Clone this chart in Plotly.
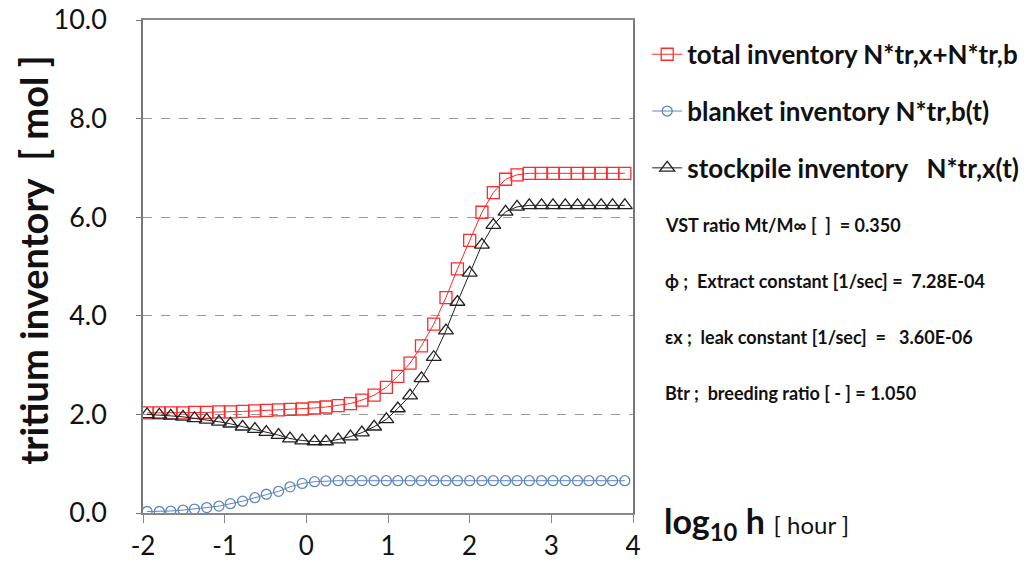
import plotly.graph_objects as go

# log10 of time [hour]
log_h = [-1.95, -1.80, -1.66, -1.51, -1.37, -1.22, -1.07, -0.93, -0.78, -0.63,
         -0.49, -0.34, -0.20, -0.05, 0.10, 0.24, 0.39, 0.54, 0.68, 0.83,
         0.98, 1.12, 1.27, 1.41, 1.56, 1.71, 1.85, 2.00, 2.15, 2.29,
         2.44, 2.58, 2.73, 2.88, 3.02, 3.17, 3.32, 3.46, 3.61, 3.75, 3.90]

total_inv = [2.03, 2.03, 2.03, 2.03, 2.04, 2.04, 2.05, 2.05, 2.06, 2.07,
             2.08, 2.09, 2.10, 2.11, 2.13, 2.15, 2.18, 2.22, 2.29, 2.39,
             2.55, 2.77, 3.04, 3.39, 3.83, 4.37, 4.95, 5.53, 6.10, 6.50,
             6.77, 6.86, 6.89, 6.89, 6.89, 6.89, 6.89, 6.89, 6.89, 6.89, 6.89]

blanket_inv = [0.03, 0.03, 0.04, 0.06, 0.08, 0.11, 0.14, 0.19, 0.24, 0.31,
               0.38, 0.44, 0.53, 0.60, 0.635, 0.65, 0.655, 0.655, 0.655, 0.655,
               0.655, 0.655, 0.655, 0.655, 0.655, 0.655, 0.655, 0.655, 0.655, 0.655,
               0.655, 0.655, 0.655, 0.655, 0.655, 0.655, 0.655, 0.655, 0.655, 0.655, 0.655]

stock_inv = [2.00, 1.99, 1.97, 1.95, 1.92, 1.89, 1.85, 1.81, 1.75, 1.70,
             1.64, 1.58, 1.51, 1.47, 1.45, 1.45, 1.49, 1.55, 1.63, 1.75,
             1.90, 2.12, 2.38, 2.73, 3.16, 3.70, 4.28, 4.87, 5.44, 5.84,
             6.11, 6.21, 6.24, 6.24, 6.24, 6.24, 6.24, 6.24, 6.24, 6.24, 6.24]

x_ticks = [-2, -1, 0, 1, 2, 3, 4]
x_labels = ["-2", "-1", "0", "1", "2", "3", "4"]

params = [
    "VST ratio Mt/M∞ [  ]  = 0.350",
    "ϕ ;  Extract constant [1/sec] =  7.28E-04",
    "εx ;  leak constant [1/sec]  =   3.60E-06",
    "Btr ;  breeding ratio [ - ] = 1.050",
]

FONT = "Lato, 'Noto Sans', sans-serif"

fig = go.Figure()

fig.add_trace(go.Scatter(
    x=log_h, y=total_inv, mode="lines+markers",
    name="total inventory N*tr,x+N*tr,b", legendgroup="a",
    line=dict(color="#ff2a2a", width=1),
    marker=dict(symbol="square-open", size=12, color="#ff2a2a", line=dict(width=1.3)),
))
fig.add_trace(go.Scatter(
    x=log_h, y=blanket_inv, mode="lines+markers",
    name="blanket inventory N*tr,b(t)", legendgroup="b",
    line=dict(color="#5b86c0", width=1),
    marker=dict(symbol="circle-open", size=10, color="#5b86c0", line=dict(width=1.3)),
))
fig.add_trace(go.Scatter(
    x=log_h, y=stock_inv, mode="lines+markers",
    name="stockpile inventory   N*tr,x(t)", legendgroup="c",
    line=dict(color="#222222", width=1),
    marker=dict(symbol="triangle-up-open", size=13, color="#222222", line=dict(width=1.3)),
))

# parameter notes on the right
for k, txt in enumerate(params):
    fig.add_annotation(
        text=txt, xref="paper", yref="paper", x=1.061, y=0.584 - k * 0.1135,
        xanchor="left", yanchor="middle", showarrow=False,
        font=dict(family=FONT, size=18, color="#111", weight="bold"),
    )

# axis titles
fig.add_annotation(
    text="<b>tritium inventory  [ mol ]</b>", xref="paper", yref="paper",
    x=-0.225, y=0.513, xanchor="center", yanchor="middle", textangle=-90, showarrow=False,
    font=dict(family=FONT, size=38, color="#111"),
)
fig.add_annotation(
    text="<b>log<sub>10</sub> h</b> <span style='font-size:24px'>[ hour ]</span>",
    xref="paper", yref="paper", x=1.06, y=-0.02, xanchor="left", yanchor="middle",
    showarrow=False, font=dict(family=FONT, size=34, color="#111"),
)

fig.update_xaxes(
    range=[-2, 4], tickvals=x_ticks, ticktext=x_labels,
    showgrid=False, zeroline=False,
    showline=True, linecolor="#888", linewidth=2, mirror=True,
    ticks="outside", ticklen=8, tickcolor="#888", ticklabelstandoff=1,
    ticklabeloverflow="allow",
    tickfont=dict(family=FONT, size=26, color="#111"),
)
fig.update_yaxes(
    range=[0, 10], tickvals=[0, 2, 4, 6, 8, 10], tickformat=".1f",
    showgrid=True, gridcolor="#999", griddash="dash", gridwidth=1,
    zeroline=False, showline=True, linecolor="#777", linewidth=1.5, mirror=True,
    ticks="outside", ticklen=5, tickcolor="#777", ticklabelstandoff=24,
    ticklabeloverflow="allow",
    tickfont=dict(family=FONT, size=27, color="#111"),
)

# the page body adds an 8px offset, so the figure is a little smaller than the window
fig.update_layout(
    width=1023, height=556,
    margin=dict(l=135, r=398, t=12, b=51, autoexpand=False),
    plot_bgcolor="white", paper_bgcolor="white",
    showlegend=True,
    legend=dict(
        x=1.029, y=0.978, xanchor="left", yanchor="top",
        font=dict(family=FONT, size=26, color="#111", weight="bold"),
        tracegroupgap=20, itemwidth=30, bgcolor="rgba(0,0,0,0)",
    ),
)

fig.write_html("out.html")
